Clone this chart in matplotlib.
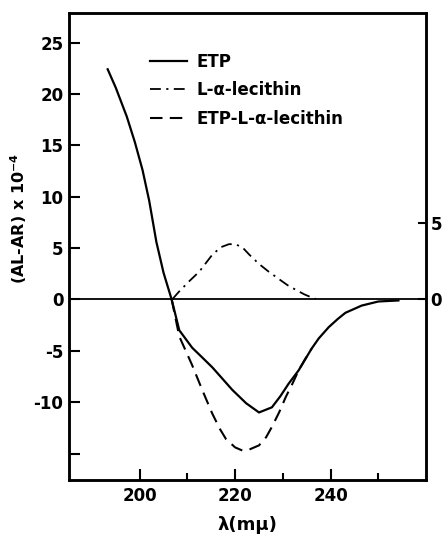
import matplotlib.pyplot as plt
import numpy as np

# wavelength (m-mu) and (AL-AR) x 10^-4
etp_x = [193.3, 195.0, 197.3, 199.0, 200.6, 202.0, 203.5, 205.0, 206.7, 208.3,
         211.0, 213.0, 215.2, 217.5, 219.4, 222.3, 225.0, 227.7, 229.5, 231.2,
         233.3, 236.0, 237.5, 239.6, 241.5, 243.1, 246.5, 250.0, 254.2]
etp_y = [22.4, 20.6, 17.8, 15.3, 12.6, 9.6, 5.6, 2.6, 0.0, -3.0,
         -4.7, -5.6, -6.6, -7.8, -8.8, -10.1, -11.0, -10.5, -9.4, -8.2,
         -6.9, -4.8, -3.8, -2.7, -1.9, -1.3, -0.6, -0.2, -0.1]

lec_x = [206.9, 208.3, 210.5, 212.5, 215.2, 217.0, 218.7, 220.0, 221.5, 223.0,
         225.0, 227.0, 229.2, 231.0, 232.7, 234.5, 236.0, 236.9]
lec_y = [0.0, 0.5, 1.2, 1.8, 2.9, 3.4, 3.6, 3.6, 3.4, 2.9,
         2.3, 1.8, 1.3, 0.9, 0.6, 0.3, 0.1, 0.0]

mix_x = [206.7, 208.3, 211.0, 213.1, 215.2, 216.8, 218.1, 220.0, 221.5, 223.0,
         225.0, 226.5, 227.7, 229.2, 230.6, 232.0, 233.3, 234.8, 236.0]
mix_y = [0.0, -3.6, -6.4, -8.8, -11.1, -12.6, -13.6, -14.4, -14.7, -14.6,
         -14.2, -13.4, -12.4, -11.0, -9.5, -8.2, -6.9, -5.7, -4.8]

yticks = [25, 20, 15, 10, 5, 0, -5, -10, -15]
ytick_labels = ['25', '20', '15', '10', '5', '0', '-5', '-10', '']

plt.rcParams['font.family'] = ['DejaVu Sans']
plt.rcParams['font.weight'] = 'bold'

fig = plt.figure(figsize=(4.46, 5.39), dpi=100)
ax = fig.add_axes([0.1547, 0.1095, 0.8007, 0.8665])

ax.axhline(0, color='black', lw=1.3)
l1, = ax.plot(etp_x, etp_y, color='black', lw=1.6, label='ETP')
l3, = ax.plot(mix_x, mix_y, color='black', lw=1.5, dashes=(6, 3.5),
              label='ETP-L-α-lecithin')

ax2 = ax.twinx()
l2, = ax2.plot(lec_x, lec_y, color='black', lw=1.3, dashes=(6, 3, 1.2, 3),
               label='L-α-lecithin')

ax.set_xlim(185.2, 260)
ax.set_ylim(-17.57, 27.88)
ax2.set_ylim(-11.9, 18.8)

ax.set_xticks([200, 220, 240])
ax.set_xticks([210, 230, 250], minor=True)
ax.set_yticks(yticks)
ax.set_yticklabels(ytick_labels)
ax2.set_yticks([0, 5])

ax.tick_params(axis='both', which='major', direction='in', length=8, width=1.5,
               labelsize=12, pad=5)
ax.tick_params(axis='x', which='minor', direction='in', length=5, width=1.5)
ax.tick_params(axis='y', which='major', pad=4)
ax2.tick_params(axis='y', direction='in', length=6, width=1.5, labelsize=12, pad=3)

for a in (ax, ax2):
    for s in a.spines.values():
        s.set_linewidth(1.8)

ax.set_ylabel('(AL-AR) x 10$^{-4}$', fontsize=11.5, fontweight='bold')
ax.yaxis.set_label_coords(-0.112, 0.56)
ax.set_xlabel('λ(mμ)', fontsize=13, labelpad=8, fontweight='bold')

fig.legend(handles=[l1, l2, l3], loc='upper left',
           bbox_to_anchor=(150 / 446, (539 - 53) / 539), frameon=False,
           fontsize=12, handlelength=2.2, handletextpad=0.6,
           labelspacing=0.62, borderpad=0, borderaxespad=0)

fig.savefig('out.png', dpi=100)
